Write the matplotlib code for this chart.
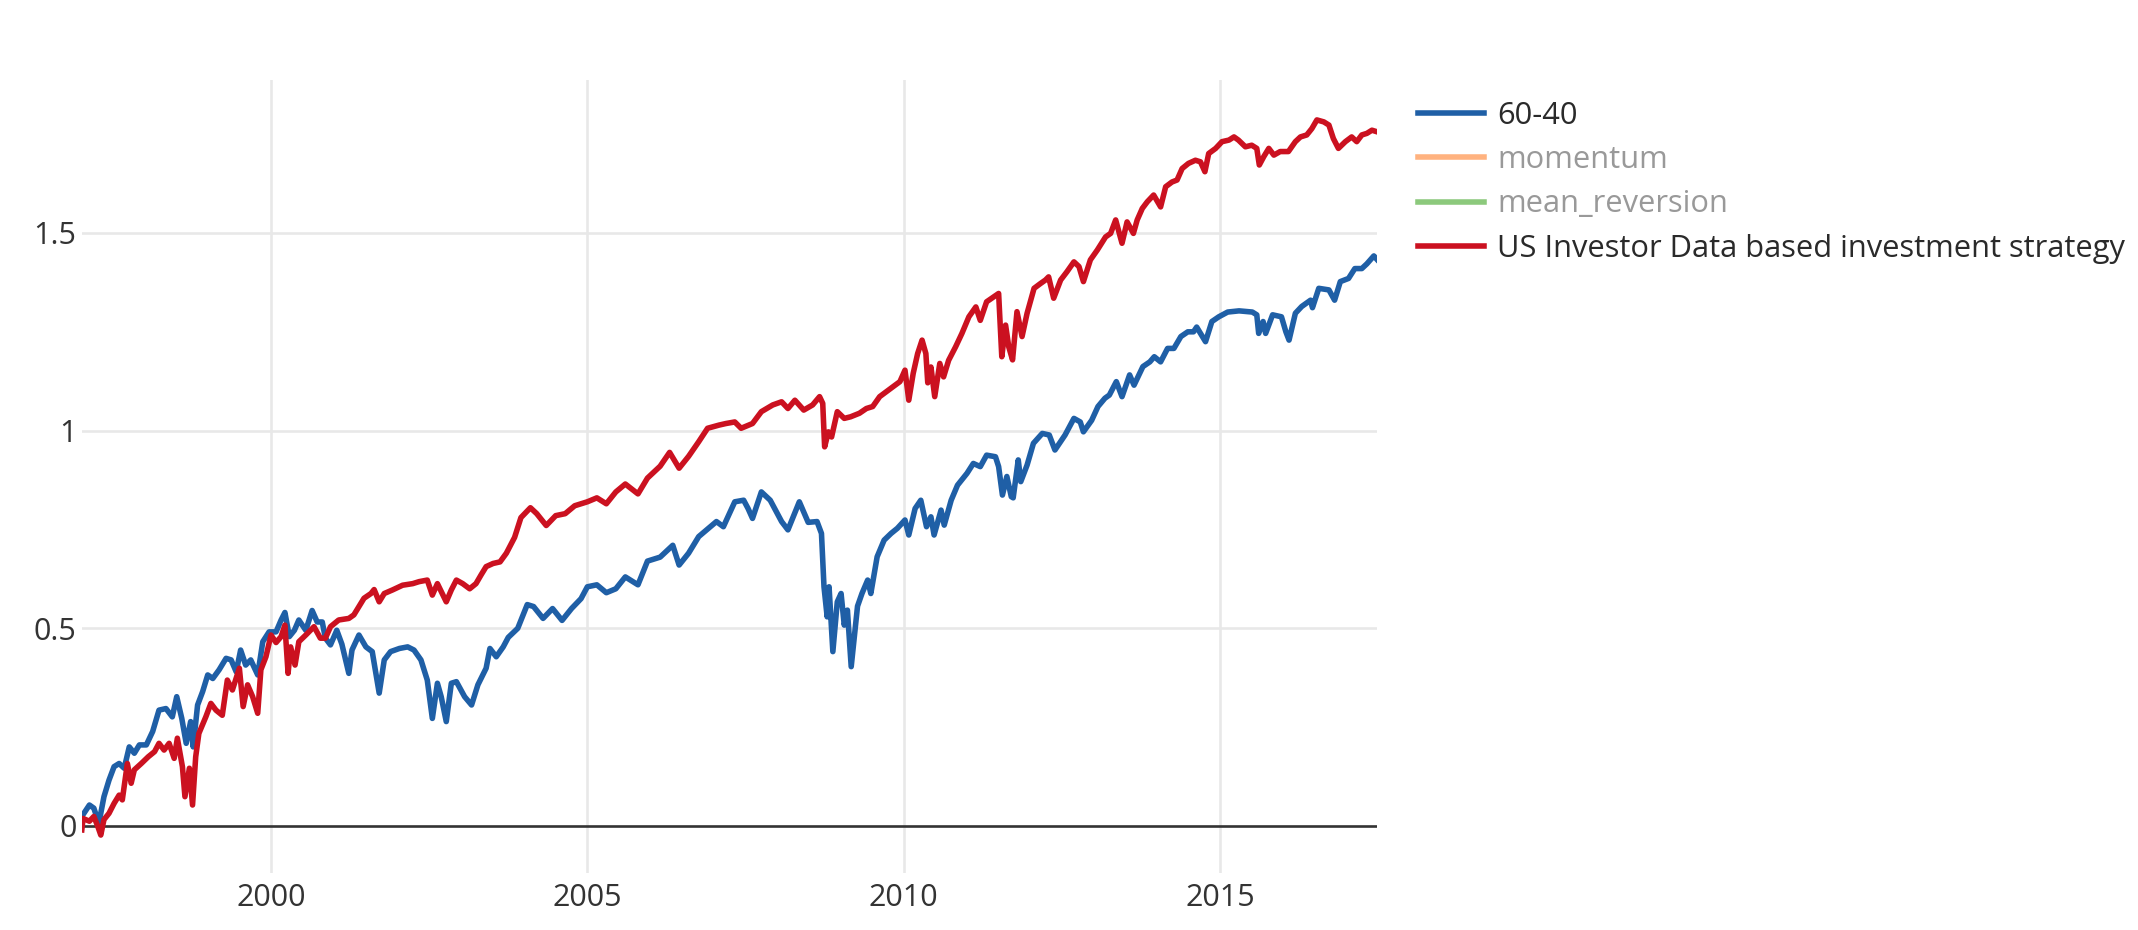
import matplotlib
matplotlib.use("Agg")
import matplotlib.pyplot as plt

plt.rcParams['font.family'] = ['Open Sans', 'DejaVu Sans']

# Cumulative returns (decimal years)
years_6040 = [
    1997.01, 1997.13, 1997.20, 1997.28, 1997.36, 1997.44, 1997.52, 1997.60, 1997.68, 1997.76,
    1997.84, 1997.92, 1998.03, 1998.13, 1998.23, 1998.34, 1998.44, 1998.51, 1998.59, 1998.66,
    1998.73, 1998.77, 1998.84, 1998.92, 1999.00, 1999.08, 1999.18, 1999.29, 1999.37, 1999.45,
    1999.52, 1999.60, 1999.68, 1999.79, 1999.87, 1999.97, 2000.08, 2000.16, 2000.22, 2000.29,
    2000.37, 2000.44, 2000.55, 2000.65, 2000.73, 2000.81, 2000.86, 2000.94, 2001.04, 2001.12,
    2001.23, 2001.28, 2001.39, 2001.50, 2001.60, 2001.71, 2001.79, 2001.89, 2002.03, 2002.16,
    2002.26, 2002.37, 2002.47, 2002.55, 2002.63, 2002.69, 2002.77, 2002.85, 2002.93, 2003.06,
    2003.17, 2003.27, 2003.40, 2003.46, 2003.56, 2003.67, 2003.75, 2003.90, 2004.05, 2004.15,
    2004.30, 2004.45, 2004.60, 2004.75, 2004.90, 2005.00, 2005.15, 2005.30, 2005.45, 2005.60,
    2005.80, 2005.95, 2006.15, 2006.35, 2006.45, 2006.60, 2006.76, 2007.04, 2007.15, 2007.33,
    2007.47, 2007.54, 2007.61, 2007.75, 2007.89, 2008.07, 2008.17, 2008.35, 2008.49, 2008.63,
    2008.70, 2008.74, 2008.79, 2008.82, 2008.88, 2008.95, 2009.01, 2009.06, 2009.11, 2009.17,
    2009.27, 2009.34, 2009.43, 2009.48, 2009.58, 2009.69, 2009.80, 2009.90, 2010.02, 2010.08,
    2010.18, 2010.27, 2010.36, 2010.43, 2010.48, 2010.59, 2010.64, 2010.75, 2010.85, 2011.00,
    2011.10, 2011.21, 2011.31, 2011.45, 2011.50, 2011.56, 2011.63, 2011.70, 2011.73, 2011.81,
    2011.85, 2011.95, 2012.05, 2012.19, 2012.30, 2012.39, 2012.55, 2012.69, 2012.79, 2012.84,
    2012.97, 2013.07, 2013.18, 2013.25, 2013.36, 2013.45, 2013.57, 2013.64, 2013.78, 2013.89,
    2013.96, 2014.06, 2014.17, 2014.27, 2014.38, 2014.49, 2014.58, 2014.63, 2014.77, 2014.87,
    2014.98, 2015.12, 2015.30, 2015.51, 2015.58, 2015.61, 2015.68, 2015.72, 2015.83, 2015.97,
    2016.04, 2016.09, 2016.19, 2016.29, 2016.43, 2016.46, 2016.56, 2016.72, 2016.81, 2016.90,
    2017.03, 2017.13, 2017.24, 2017.32, 2017.43, 2017.48,
]
values_6040 = [
    0.024, 0.053, 0.045, 0.007, 0.074, 0.116, 0.150, 0.158, 0.146, 0.200,
    0.184, 0.205, 0.205, 0.239, 0.293, 0.297, 0.276, 0.327, 0.272, 0.209,
    0.264, 0.200, 0.306, 0.340, 0.382, 0.373, 0.395, 0.424, 0.420, 0.390,
    0.445, 0.407, 0.420, 0.382, 0.466, 0.491, 0.491, 0.521, 0.540, 0.479,
    0.495, 0.521, 0.495, 0.545, 0.516, 0.516, 0.475, 0.458, 0.495, 0.460,
    0.386, 0.445, 0.483, 0.453, 0.441, 0.336, 0.420, 0.441, 0.449, 0.453,
    0.445, 0.420, 0.369, 0.272, 0.361, 0.327, 0.264, 0.361, 0.365, 0.327,
    0.306, 0.357, 0.399, 0.449, 0.428, 0.453, 0.477, 0.500, 0.560, 0.555,
    0.525, 0.550, 0.520, 0.550, 0.575, 0.605, 0.610, 0.590, 0.600, 0.630,
    0.610, 0.670, 0.680, 0.710, 0.660, 0.690, 0.732, 0.770, 0.757, 0.820,
    0.824, 0.803, 0.778, 0.845, 0.824, 0.770, 0.749, 0.820, 0.768, 0.770,
    0.740, 0.605, 0.529, 0.605, 0.441, 0.567, 0.588, 0.508, 0.546, 0.403,
    0.556, 0.588, 0.622, 0.588, 0.681, 0.723, 0.740, 0.753, 0.774, 0.736,
    0.803, 0.824, 0.757, 0.782, 0.736, 0.799, 0.761, 0.824, 0.862, 0.892,
    0.917, 0.909, 0.938, 0.934, 0.909, 0.837, 0.884, 0.833, 0.830, 0.926,
    0.871, 0.913, 0.968, 0.993, 0.989, 0.951, 0.989, 1.031, 1.022, 0.997,
    1.026, 1.061, 1.082, 1.090, 1.124, 1.086, 1.141, 1.115, 1.162, 1.174,
    1.187, 1.174, 1.208, 1.208, 1.238, 1.250, 1.250, 1.262, 1.225, 1.276,
    1.288, 1.300, 1.303, 1.300, 1.293, 1.246, 1.276, 1.246, 1.293, 1.288,
    1.250, 1.229, 1.297, 1.314, 1.330, 1.311, 1.360, 1.356, 1.330, 1.377,
    1.385, 1.410, 1.410, 1.422, 1.442, 1.433,
]

years_us = [
    1997.01, 1997.03, 1997.13, 1997.20, 1997.26, 1997.31, 1997.36, 1997.44, 1997.52, 1997.60,
    1997.65, 1997.73, 1997.79, 1997.84, 1997.95, 1998.06, 1998.16, 1998.23, 1998.31, 1998.39,
    1998.47, 1998.52, 1998.60, 1998.64, 1998.71, 1998.76, 1998.81, 1998.86, 1998.97, 1999.05,
    1999.13, 1999.23, 1999.31, 1999.39, 1999.50, 1999.56, 1999.63, 1999.71, 1999.79, 1999.84,
    1999.92, 2000.00, 2000.08, 2000.16, 2000.22, 2000.27, 2000.31, 2000.38, 2000.44, 2000.55,
    2000.68, 2000.78, 2000.86, 2000.94, 2001.07, 2001.23, 2001.31, 2001.39, 2001.47, 2001.58,
    2001.63, 2001.71, 2001.79, 2001.92, 2002.08, 2002.24, 2002.34, 2002.47, 2002.55, 2002.63,
    2002.77, 2002.85, 2002.93, 2003.03, 2003.14, 2003.24, 2003.32, 2003.40, 2003.51, 2003.62,
    2003.72, 2003.85, 2003.95, 2004.10, 2004.20, 2004.35, 2004.50, 2004.65, 2004.80, 2005.00,
    2005.15, 2005.30, 2005.45, 2005.60, 2005.80, 2005.95, 2006.15, 2006.30, 2006.45, 2006.60,
    2006.76, 2006.90, 2007.08, 2007.19, 2007.33, 2007.43, 2007.61, 2007.75, 2007.93, 2008.07,
    2008.17, 2008.28, 2008.42, 2008.56, 2008.67, 2008.72, 2008.75, 2008.81, 2008.86, 2008.95,
    2009.06, 2009.16, 2009.30, 2009.41, 2009.51, 2009.62, 2009.72, 2009.83, 2009.94, 2010.02,
    2010.08, 2010.15, 2010.22, 2010.29, 2010.35, 2010.38, 2010.43, 2010.49, 2010.57, 2010.63,
    2010.71, 2010.82, 2010.92, 2011.03, 2011.14, 2011.21, 2011.31, 2011.50, 2011.55, 2011.61,
    2011.66, 2011.72, 2011.79, 2011.87, 2011.95, 2012.06, 2012.16, 2012.24, 2012.29, 2012.37,
    2012.48, 2012.58, 2012.69, 2012.77, 2012.84, 2012.95, 2013.06, 2013.19, 2013.27, 2013.35,
    2013.45, 2013.53, 2013.63, 2013.69, 2013.77, 2013.85, 2013.95, 2014.06, 2014.14, 2014.24,
    2014.32, 2014.40, 2014.50, 2014.61, 2014.69, 2014.76, 2014.82, 2014.93, 2015.03, 2015.14,
    2015.22, 2015.29, 2015.40, 2015.50, 2015.58, 2015.62, 2015.69, 2015.77, 2015.85, 2015.95,
    2016.08, 2016.19, 2016.27, 2016.37, 2016.45, 2016.53, 2016.64, 2016.72, 2016.79, 2016.87,
    2016.98, 2017.08, 2017.16, 2017.24, 2017.32, 2017.40, 2017.48,
]
values_us = [
    -0.010, 0.019, 0.012, 0.024, 0.000, -0.023, 0.016, 0.032, 0.057, 0.078,
    0.066, 0.158, 0.108, 0.142, 0.158, 0.175, 0.188, 0.209, 0.192, 0.209,
    0.171, 0.222, 0.150, 0.074, 0.146, 0.053, 0.175, 0.234, 0.276, 0.310,
    0.293, 0.280, 0.369, 0.344, 0.399, 0.302, 0.357, 0.327, 0.285, 0.395,
    0.428, 0.483, 0.464, 0.479, 0.508, 0.386, 0.453, 0.407, 0.466, 0.483,
    0.504, 0.475, 0.475, 0.504, 0.521, 0.525, 0.534, 0.555, 0.576, 0.588,
    0.598, 0.567, 0.588, 0.597, 0.609, 0.613, 0.618, 0.622, 0.584, 0.613,
    0.567, 0.597, 0.622, 0.613, 0.600, 0.613, 0.635, 0.656, 0.664, 0.668,
    0.690, 0.730, 0.780, 0.805, 0.790, 0.760, 0.785, 0.790, 0.810, 0.820,
    0.830, 0.815, 0.845, 0.865, 0.840, 0.880, 0.910, 0.945, 0.905, 0.935,
    0.972, 1.006, 1.014, 1.018, 1.022, 1.006, 1.018, 1.048, 1.065, 1.073,
    1.056, 1.077, 1.052, 1.065, 1.086, 1.069, 0.959, 0.997, 0.984, 1.048,
    1.031, 1.035, 1.044, 1.056, 1.061, 1.086, 1.098, 1.111, 1.124, 1.153,
    1.077, 1.145, 1.195, 1.229, 1.195, 1.121, 1.161, 1.086, 1.170, 1.136,
    1.178, 1.212, 1.246, 1.288, 1.313, 1.279, 1.326, 1.347, 1.187, 1.267,
    1.212, 1.179, 1.301, 1.238, 1.297, 1.360, 1.372, 1.381, 1.389, 1.335,
    1.381, 1.402, 1.427, 1.415, 1.377, 1.432, 1.457, 1.490, 1.499, 1.533,
    1.474, 1.528, 1.499, 1.533, 1.562, 1.579, 1.596, 1.566, 1.617, 1.629,
    1.634, 1.663, 1.676, 1.684, 1.680, 1.655, 1.701, 1.714, 1.731, 1.735,
    1.743, 1.735, 1.718, 1.722, 1.714, 1.672, 1.693, 1.714, 1.697, 1.706,
    1.706, 1.731, 1.743, 1.748, 1.764, 1.786, 1.781, 1.773, 1.739, 1.714,
    1.731, 1.743, 1.731, 1.748, 1.752, 1.760, 1.756,
]

labels = ['60-40', 'momentum', 'mean_reversion', 'US Investor Data based investment strategy']
colors = ['#1f5fa6', '#ffb27f', '#8cc97c', '#cb1120']
xticks = [2000, 2005, 2010, 2015]
yticks = [0, 0.5, 1, 1.5]
yticklabels = ['0', '0.5', '1', '1.5']

W, H = 2138, 930
fig = plt.figure(figsize=(W / 100, H / 100), dpi=100)
ax = fig.add_axes([82 / W, 57 / H, (1377 - 82) / W, (873 - 80) / H])

lw = 4.0
ax.plot(years_6040, values_6040, color=colors[0], lw=lw, label=labels[0], zorder=3)
# momentum and mean_reversion are hidden (legend only)
ax.plot([], [], color=colors[1], lw=lw, label=labels[1])
ax.plot([], [], color=colors[2], lw=lw, label=labels[2])
ax.plot(years_us, values_us, color=colors[3], lw=lw, label=labels[3], zorder=4)

ax.axhline(0, color='#333333', lw=1.9, zorder=2)

ax.set_xlim(1997.013, 2017.48)
ax.set_ylim(-0.119, 1.887)
ax.set_xticks(xticks)
ax.set_xticklabels([str(t) for t in xticks])
ax.set_yticks(yticks)
ax.set_yticklabels(yticklabels)
ax.grid(True, color='#e8e8e8', lw=1.9, zorder=0)
ax.set_axisbelow(True)
# zero gridline is replaced by the zero line
ax.yaxis.get_gridlines()[0].set_visible(False)

for s in ax.spines.values():
    s.set_visible(False)
ax.tick_params(axis='both', length=0, labelsize=22, labelcolor='#333333')
ax.tick_params(axis='x', pad=7)
ax.tick_params(axis='y', pad=4)

fs = 22.2
leg = ax.legend(loc='upper left', bbox_to_anchor=(1418 / W, 1 - 101 / H),
                bbox_transform=fig.transFigure, frameon=False, fontsize=fs,
                borderpad=0, borderaxespad=0, handlelength=2.14,
                handletextpad=0.42, labelspacing=0.46)
for txt, lab in zip(leg.get_texts(), labels):
    txt.set_color('#999999' if lab in ('momentum', 'mean_reversion') else '#2a2a2a')

fig.savefig('out.png', dpi=100)
